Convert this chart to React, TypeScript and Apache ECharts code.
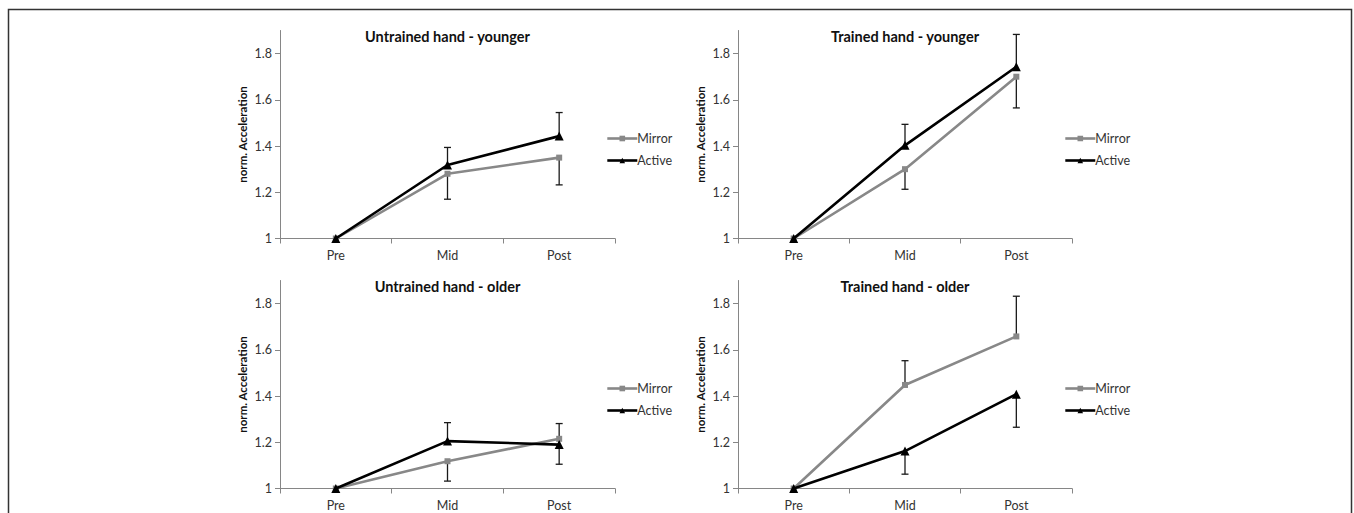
import React, { useEffect, useRef } from 'react';
import * as echarts from 'echarts';

const categories = ['Pre', 'Mid', 'Post'];
const seriesNames = ['Mirror', 'Active'];
const panelTitles = [
  'Untrained hand - younger',
  'Trained hand - younger',
  'Untrained hand - older',
  'Trained hand - older',
];
const yAxisName = 'norm. Acceleration';
const yTicks = [1, 1.2, 1.4, 1.6, 1.8];

// values and error-bar end points (far end of each bar)
const untrainedYoungerMirror = [1, 1.28, 1.35];
const untrainedYoungerMirrorErr = [null, 1.17, 1.232];
const untrainedYoungerActive = [1, 1.318, 1.443];
const untrainedYoungerActiveErr = [null, 1.394, 1.545];

const trainedYoungerMirror = [1, 1.3, 1.7];
const trainedYoungerMirrorErr = [null, 1.213, 1.565];
const trainedYoungerActive = [1, 1.403, 1.743];
const trainedYoungerActiveErr = [null, 1.494, 1.883];

const untrainedOlderMirror = [1, 1.118, 1.215];
const untrainedOlderMirrorErr = [null, 1.032, 1.105];
const untrainedOlderActive = [1, 1.205, 1.19];
const untrainedOlderActiveErr = [null, 1.285, 1.281];

const trainedOlderMirror = [1, 1.448, 1.658];
const trainedOlderMirrorErr = [null, 1.553, 1.832];
const trainedOlderActive = [1, 1.162, 1.408];
const trainedOlderActiveErr = [null, 1.062, 1.265];

const panelMirror = [untrainedYoungerMirror, trainedYoungerMirror, untrainedOlderMirror, trainedOlderMirror];
const panelMirrorErr = [untrainedYoungerMirrorErr, trainedYoungerMirrorErr, untrainedOlderMirrorErr, trainedOlderMirrorErr];
const panelActive = [untrainedYoungerActive, trainedYoungerActive, untrainedOlderActive, trainedOlderActive];
const panelActiveErr = [untrainedYoungerActiveErr, trainedYoungerActiveErr, untrainedOlderActiveErr, trainedOlderActiveErr];

// layout (page pixels)
const layout = [
  { left: 280, top: 30.5, width: 335, legendLeft: 601, legendTop: 127 },
  { left: 738, top: 30.5, width: 334, legendLeft: 1059, legendTop: 127 },
  { left: 280, top: 280.5, width: 335, legendLeft: 601, legendTop: 377 },
  { left: 738, top: 280.5, width: 334, legendLeft: 1059, legendTop: 377 },
];
const GRID_H = 208;
const FONT = 'Lato, "Liberation Sans", sans-serif';
const MIRROR_COLOR = '#888888';
const ACTIVE_COLOR = '#000000';
const AXIS_COLOR = '#868686';

function errorRender(params: any, api: any) {
  const p = api.coord([api.value(0), api.value(1)]);
  const e = api.coord([api.value(0), api.value(2)]);
  const half = 3.5;
  const style = { stroke: '#1a1a1a', lineWidth: 1.3 };
  return {
    type: 'group',
    children: [
      { type: 'line', shape: { x1: p[0], y1: p[1], x2: e[0], y2: e[1] }, style },
      { type: 'line', shape: { x1: e[0] - half, y1: e[1], x2: e[0] + half, y2: e[1] }, style },
    ],
  };
}

function errData(values: number[], ends: (number | null)[]) {
  const out: any[] = [];
  categories.forEach((_, k) => {
    if (ends[k] != null) out.push([k, values[k], ends[k]]);
  });
  return out;
}

export default function App() {
  const ref = useRef<HTMLDivElement>(null);
  useEffect(() => {
    if (!ref.current) return;
    const chart = echarts.init(ref.current, null, { renderer: 'svg' });
    const idx = [0, 1, 2, 3];
    const series: any[] = [];
    idx.forEach((i) => {
      series.push({
        type: 'custom', xAxisIndex: i, yAxisIndex: i, silent: true, z: 1,
        data: errData(panelMirror[i], panelMirrorErr[i]),
        encode: { x: 0, y: [1, 2] }, renderItem: errorRender,
      });
      series.push({
        type: 'custom', xAxisIndex: i, yAxisIndex: i, silent: true, z: 1,
        data: errData(panelActive[i], panelActiveErr[i]),
        encode: { x: 0, y: [1, 2] }, renderItem: errorRender,
      });
      series.push({
        type: 'line', name: seriesNames[0], xAxisIndex: i, yAxisIndex: i, z: 2,
        data: panelMirror[i], symbol: 'rect', symbolSize: 6,
        lineStyle: { color: MIRROR_COLOR, width: 2.6 },
        itemStyle: { color: MIRROR_COLOR },
      });
      series.push({
        type: 'line', name: seriesNames[1], xAxisIndex: i, yAxisIndex: i, z: 3,
        data: panelActive[i], symbol: 'triangle', symbolSize: 9,
        lineStyle: { color: ACTIVE_COLOR, width: 2.6 },
        itemStyle: { color: ACTIVE_COLOR },
      });
    });

    const option: any = {
      animation: false,
      textStyle: { fontFamily: FONT },
      grid: layout.map((l) => ({ left: l.left, top: l.top, width: l.width, height: GRID_H })),
      xAxis: idx.map((i) => ({
        type: 'category', gridIndex: i, data: categories, boundaryGap: true,
        axisLine: { lineStyle: { color: AXIS_COLOR, width: 1 } },
        axisTick: { show: true, length: 5, lineStyle: { color: AXIS_COLOR } },
        axisLabel: { color: '#333', fontSize: 12.5, fontFamily: FONT, margin: 10 },
        splitLine: { show: false },
      })),
      yAxis: idx.map((i) => ({
        type: 'value', gridIndex: i, min: 1, max: 1.9, interval: 0.2,
        axisLine: { show: true, lineStyle: { color: AXIS_COLOR, width: 1 } },
        axisTick: { show: true, length: 5, lineStyle: { color: AXIS_COLOR }, customValues: yTicks },
        axisLabel: { color: '#333', fontSize: 12.5, fontFamily: FONT, margin: 8, customValues: yTicks },
        splitLine: { show: false },
        name: yAxisName, nameLocation: 'middle', nameRotate: 90, nameGap: 32,
        nameTextStyle: { fontWeight: 'bold', fontSize: 11.5, color: '#111', fontFamily: FONT },
      })),
      legend: layout.map((l) => ({
        orient: 'vertical', left: l.legendLeft, top: l.legendTop,
        itemWidth: 30, itemHeight: 7, itemGap: 9,
        data: seriesNames,
        lineStyle: { width: 2.6 },
        textStyle: { fontSize: 12.5, color: '#333', fontFamily: FONT, padding: [0, 0, 0, -5] },
      })),
      graphic: [
        {
          type: 'rect', silent: true,
          shape: { x: 8.5, y: 9.5, width: 1343, height: 600 },
          style: { fill: 'none', stroke: '#333', lineWidth: 1.5 },
        },
        ...layout.map((l, i) => ({
          type: 'text', silent: true,
          x: l.left + l.width / 2, y: l.top + 6,
          style: {
            text: panelTitles[i], fontFamily: FONT, fontWeight: 'bold', fontSize: 14.5,
            fill: '#111', align: 'center', verticalAlign: 'middle',
          },
        })),
      ],
      series,
    };
    chart.setOption(option);
    return () => chart.dispose();
  }, []);
  return (
    <div
      ref={ref}
      style={{ position: 'fixed', left: 0, top: 0, width: 1354, height: 513, background: '#fff' }}
    />
  );
}
